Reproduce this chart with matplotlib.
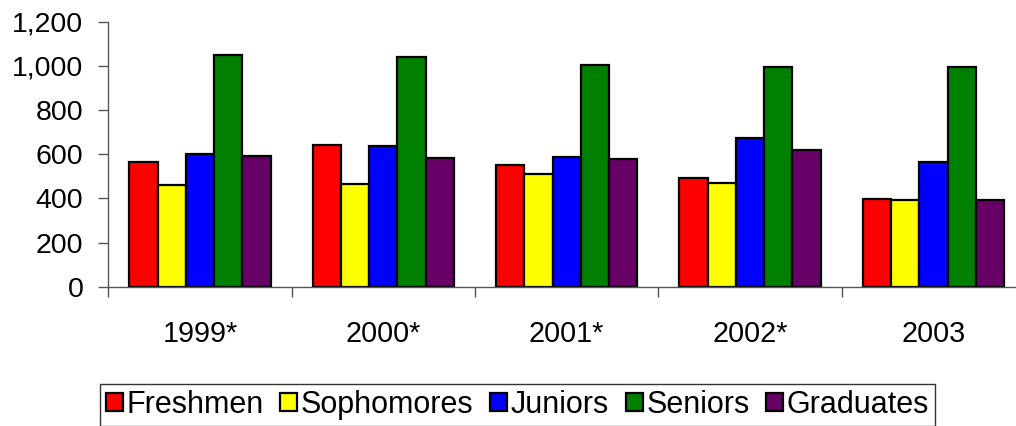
import matplotlib
matplotlib.use("Agg")
import matplotlib.pyplot as plt
import numpy as np

years = ["1999*", "2000*", "2001*", "2002*", "2003"]
classes = ["Freshmen", "Sophomores", "Juniors", "Seniors", "Graduates"]
freshmen = [563, 642, 553, 492, 396]
sophomores = [460, 464, 510, 471, 391]
juniors = [602, 637, 587, 675, 563]
seniors = [1049, 1042, 1004, 994, 995]
graduates = [592, 583, 577, 619, 393]
colors = ["#FF0000", "#FFFF00", "#0000FF", "#008000", "#660066"]

plt.rcParams['font.family'] = ['Liberation Sans', 'DejaVu Sans']

fig = plt.figure(figsize=(10.16, 4.26), dpi=100)
ax = fig.add_axes([0.1066, 0.327, 0.9023, 0.622])

series = [freshmen, sophomores, juniors, seniors, graduates]
x = np.arange(len(years)) + 0.5
bw = 0.771 / 5
for i, (vals, name, c) in enumerate(zip(series, classes, colors)):
    ax.bar(x + (i - 2) * bw, vals, width=bw, color=c, edgecolor="black",
           linewidth=1.6, label=name)

ax.set_xlim(0, 5)
ax.set_ylim(0, 1200)
ax.set_yticks(range(0, 1201, 200))
ax.set_yticklabels([f"{v:,}" for v in range(0, 1201, 200)])
ax.set_xticks(np.arange(0, 6))
ax.set_xticklabels([])
ax.set_xticks(x, minor=True)
ax.set_xticklabels(years, minor=True)
ax.tick_params(axis="x", which="minor", length=0, pad=24, labelsize=20.7)
ax.tick_params(axis="x", which="major", length=7, width=1, color="#555555")
ax.tick_params(axis="y", length=7, width=1, color="#555555", pad=11, labelsize=20.5)

for s in ["top", "right"]:
    ax.spines[s].set_visible(False)
for s in ["left", "bottom"]:
    ax.spines[s].set_color("#555555")
    ax.spines[s].set_linewidth(1)

leg = fig.legend(loc="center", bbox_to_anchor=(0.5093, 0.049), ncol=5,
                 fontsize=22, frameon=True, fancybox=False, borderpad=0.2,
                 handlelength=0.55, handleheight=0.52, handletextpad=0.12,
                 columnspacing=0.55, borderaxespad=0)
leg.get_frame().set_edgecolor("black")
leg.get_frame().set_linewidth(1)
for h in leg.legend_handles:
    h.set_linewidth(1.6)

fig.savefig("out.png", dpi=100)
